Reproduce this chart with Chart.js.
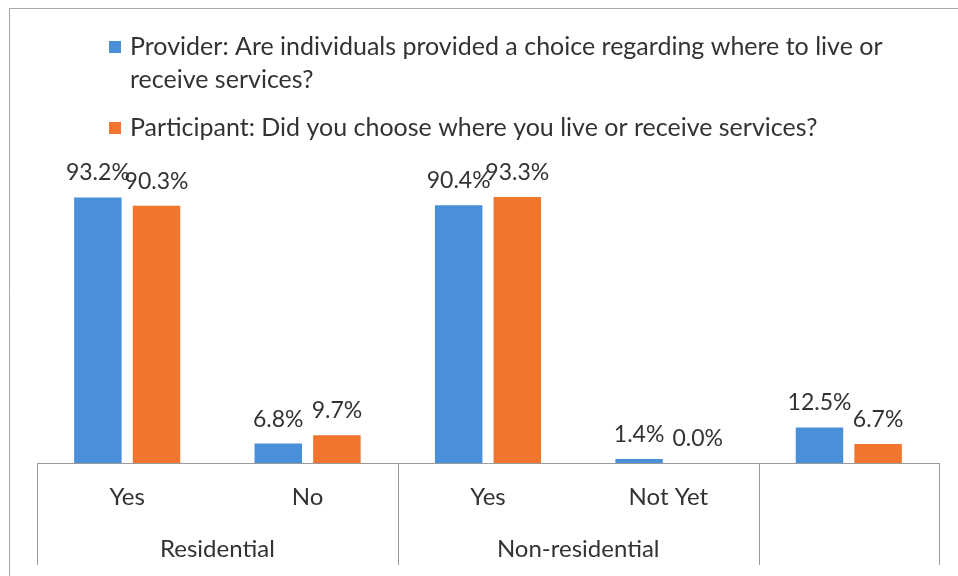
<!DOCTYPE html>
<html>
<head>
<meta charset="utf-8">
<style>
  html, body { margin: 0; padding: 0; background: #ffffff; }
  #wrap { position: relative; width: 958px; height: 576px; }
</style>
<script src="https://cdn.jsdelivr.net/npm/chart.js@4/dist/chart.umd.min.js"></script>
</head>
<body>
<div id="wrap"><canvas id="chart" width="958" height="576"></canvas></div>
<script>
// Survey answers, in percent
const categories = ['Yes', 'No', 'Yes', 'Not Yet', ''];
const groupNames = ['Residential', 'Non-residential', ''];
const groupSizes = [2, 2, 1];
const providerValues = [93.2, 6.8, 90.4, 1.4, 12.5];
const participantValues = [90.3, 9.7, 93.3, 0.0, 6.7];
const providerLabel = 'Provider: Are individuals provided a choice regarding where to live or receive services?';
const participantLabel = 'Participant: Did you choose where you live or receive services?';

const FONT = 'Lato, "Open Sans", sans-serif';
const TEXT = '#333333';
const LINE = '#9a9a9a';

function wrapWords(ctx, text, maxWidth) {
  const words = text.split(' ');
  const lines = [];
  let cur = '';
  words.forEach(w => {
    const test = cur ? cur + ' ' + w : w;
    if (ctx.measureText(test).width > maxWidth && cur) {
      lines.push(cur);
      cur = w;
    } else {
      cur = test;
    }
  });
  if (cur) lines.push(cur);
  return lines;
}

// Outer frame of the chart box
const framePlugin = {
  id: 'frame',
  beforeDraw(chart) {
    const ctx = chart.ctx;
    ctx.save();
    ctx.strokeStyle = '#a6a6a6';
    ctx.lineWidth = 1;
    ctx.beginPath();
    ctx.moveTo(9.5, 576);
    ctx.lineTo(9.5, 8.5);
    ctx.lineTo(958, 8.5);
    ctx.stroke();
    ctx.restore();
  }
};

// Legend with wrapped series names
const wrappedLegend = {
  id: 'wrappedLegend',
  afterDraw(chart) {
    const ctx = chart.ctx;
    ctx.save();
    ctx.font = '25px ' + FONT;
    ctx.textBaseline = 'middle';
    ctx.textAlign = 'left';
    let y = 47;
    chart.data.datasets.forEach(ds => {
      ctx.fillStyle = ds.backgroundColor;
      ctx.fillRect(109, y - 6, 12, 12);
      ctx.fillStyle = TEXT;
      const lines = wrapWords(ctx, ds.label, 770);
      lines.forEach((ln, i) => ctx.fillText(ln, 130, y + i * 33));
      y += lines.length * 33 + 15;
    });
    ctx.restore();
  }
};

// Value labels above each bar
const valueLabels = {
  id: 'valueLabels',
  afterDatasetsDraw(chart) {
    const ctx = chart.ctx;
    ctx.save();
    ctx.font = '23px ' + FONT;
    ctx.fillStyle = TEXT;
    ctx.textAlign = 'center';
    ctx.textBaseline = 'alphabetic';
    chart.data.datasets.forEach((ds, i) => {
      chart.getDatasetMeta(i).data.forEach((bar, j) => {
        ctx.fillText(ds.data[j].toFixed(1) + '%', bar.x, bar.y - 17);
      });
    });
    ctx.restore();
  }
};

// Category axis line, group separators and group names
const groupAxis = {
  id: 'groupAxis',
  afterDraw(chart) {
    const ctx = chart.ctx;
    const xs = chart.scales.x;
    const area = chart.chartArea;
    const yTop = Math.round(area.bottom) + 0.5;
    const half = (xs.getPixelForTick(1) - xs.getPixelForTick(0)) / 2;
    ctx.save();
    ctx.strokeStyle = LINE;
    ctx.lineWidth = 1;
    ctx.beginPath();
    ctx.moveTo(area.left, yTop);
    ctx.lineTo(area.right + 1, yTop);
    ctx.stroke();
    ctx.font = '24px ' + FONT;
    ctx.fillStyle = TEXT;
    ctx.textAlign = 'center';
    ctx.textBaseline = 'middle';
    let start = 0;
    groupSizes.forEach((n, g) => {
      const x0 = xs.getPixelForTick(start) - half;
      const x1 = xs.getPixelForTick(start + n - 1) + half;
      const sx = Math.round(x0) + 0.5;
      ctx.beginPath();
      ctx.moveTo(sx, yTop);
      ctx.lineTo(sx, 565);
      ctx.stroke();
      if (groupNames[g]) ctx.fillText(groupNames[g], (x0 + x1) / 2, 549);
      start += n;
      if (g === groupSizes.length - 1) {
        const ex = Math.round(x1) + 0.5;
        ctx.beginPath();
        ctx.moveTo(ex, yTop);
        ctx.lineTo(ex, 565);
        ctx.stroke();
      }
    });
    ctx.restore();
  }
};

new Chart(document.getElementById('chart'), {
  type: 'bar',
  data: {
    labels: categories,
    datasets: [
      { label: providerLabel, data: providerValues, backgroundColor: '#4A90D9' },
      { label: participantLabel, data: participantValues, backgroundColor: '#F0762E' }
    ]
  },
  options: {
    responsive: false,
    animation: false,
    devicePixelRatio: 1,
    categoryPercentage: 0.65,
    barPercentage: 0.81,
    layout: { padding: { top: 178, left: 37, right: 19, bottom: 0 } },
    plugins: {
      legend: { display: false },
      tooltip: { enabled: false }
    },
    scales: {
      x: {
        grid: { display: false, drawTicks: false },
        border: { display: false },
        ticks: {
          font: { family: FONT, size: 24 },
          color: TEXT,
          padding: 20,
          autoSkip: false,
          maxRotation: 0
        },
        afterFit(scale) { scale.height = 113; }
      },
      y: { display: false, min: 0, max: 100 }
    }
  },
  plugins: [framePlugin, wrappedLegend, valueLabels, groupAxis]
});
</script>
</body>
</html>
